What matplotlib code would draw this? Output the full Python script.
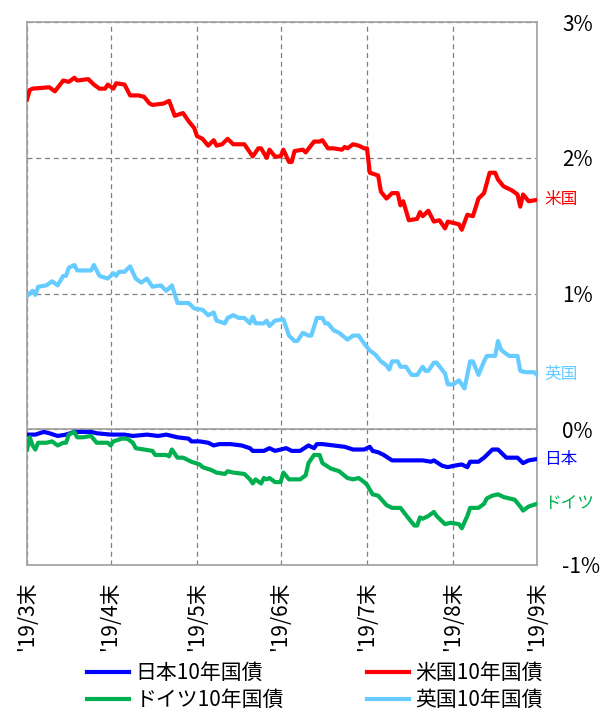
import numpy as np
import pandas as pd
import matplotlib
matplotlib.use("Agg")
import matplotlib.pyplot as plt

plt.rcParams['font.family'] = ['Noto Sans CJK JP', 'DejaVu Sans']

# ── データ（チャートから読み取り、%）──
us_dates = ['03-31', '04-01', '04-02', '04-08', '04-10', '04-13', '04-15', '04-17', '04-18', '04-22',
            '04-24', '04-26', '04-28', '04-29', '05-01', '05-02', '05-05', '05-07', '05-10', '05-12',
            '05-14', '05-15', '05-19', '05-21', '05-23', '05-26', '05-28', '05-30', '05-31', '06-02',
            '06-04', '06-06', '06-07', '06-09', '06-11', '06-13', '06-17', '06-20', '06-22', '06-23',
            '06-25', '06-26', '06-28', '06-30', '07-01', '07-03', '07-04', '07-05', '07-08', '07-09',
            '07-12', '07-14', '07-15', '07-17', '07-19', '07-22', '07-23', '07-24', '07-26', '07-28',
            '07-30', '07-31', '08-01', '08-04', '08-05', '08-07', '08-09', '08-11', '08-12', '08-13',
            '08-15', '08-18', '08-19', '08-20', '08-22', '08-24', '08-26', '08-28', '08-29', '09-02',
            '09-03', '09-05', '09-07', '09-09', '09-11', '09-13', '09-15', '09-16', '09-18', '09-21',
            '09-23', '09-24', '09-25', '09-27', '09-30']
us_vals = [2.43, 2.50, 2.51, 2.52, 2.49, 2.57, 2.56, 2.59, 2.57, 2.58,
           2.54, 2.51, 2.51, 2.54, 2.51, 2.55, 2.54, 2.46, 2.46, 2.45,
           2.40, 2.39, 2.40, 2.42, 2.31, 2.33, 2.27, 2.22, 2.16, 2.14,
           2.09, 2.13, 2.09, 2.10, 2.14, 2.10, 2.10, 2.01, 2.07, 2.07,
           2.00, 2.06, 2.01, 2.01, 2.06, 1.97, 1.97, 2.05, 2.06, 2.04,
           2.12, 2.12, 2.13, 2.07, 2.07, 2.06, 2.08, 2.07, 2.10, 2.09,
           2.07, 2.07, 1.89, 1.87, 1.75, 1.70, 1.74, 1.74, 1.65, 1.68,
           1.54, 1.55, 1.60, 1.57, 1.61, 1.53, 1.54, 1.48, 1.53, 1.51,
           1.47, 1.58, 1.57, 1.70, 1.74, 1.89, 1.89, 1.84, 1.79, 1.76,
           1.73, 1.64, 1.73, 1.68, 1.69]

uk_dates = ['03-31', '04-02', '04-03', '04-04', '04-07', '04-09', '04-11', '04-13', '04-14', '04-15',
            '04-17', '04-18', '04-23', '04-24', '04-26', '04-29', '05-01', '05-02', '05-03', '05-05',
            '05-07', '05-09', '05-11', '05-13', '05-15', '05-18', '05-20', '05-22', '05-24', '05-28',
            '05-30', '06-02', '06-04', '06-06', '06-07', '06-10', '06-11', '06-13', '06-15', '06-17',
            '06-19', '06-20', '06-21', '06-24', '06-25', '06-26', '06-28', '07-01', '07-03', '07-05',
            '07-06', '07-08', '07-10', '07-11', '07-13', '07-15', '07-16', '07-17', '07-19', '07-21',
            '07-24', '07-26', '07-28', '07-30', '08-01', '08-03', '08-05', '08-07', '08-08', '08-09',
            '08-11', '08-12', '08-14', '08-16', '08-18', '08-20', '08-21', '08-22', '08-24', '08-25',
            '08-28', '08-29', '08-31', '09-02', '09-04', '09-06', '09-07', '09-09', '09-11', '09-12',
            '09-15', '09-16', '09-17', '09-18', '09-20', '09-23', '09-24', '09-26', '09-29', '09-30']
uk_vals = [0.98, 1.02, 0.99, 1.05, 1.06, 1.09, 1.06, 1.13, 1.13, 1.19,
           1.21, 1.17, 1.17, 1.21, 1.13, 1.11, 1.15, 1.13, 1.16, 1.16,
           1.20, 1.11, 1.08, 1.11, 1.05, 1.06, 1.02, 1.06, 0.93, 0.93,
           0.89, 0.88, 0.84, 0.86, 0.80, 0.78, 0.82, 0.84, 0.82, 0.82,
           0.78, 0.83, 0.78, 0.78, 0.80, 0.76, 0.80, 0.81, 0.69, 0.65,
           0.65, 0.71, 0.69, 0.69, 0.82, 0.82, 0.78, 0.78, 0.73, 0.71,
           0.66, 0.69, 0.69, 0.63, 0.58, 0.55, 0.50, 0.47, 0.44, 0.50,
           0.50, 0.46, 0.46, 0.40, 0.40, 0.46, 0.43, 0.43, 0.49, 0.49,
           0.41, 0.33, 0.33, 0.36, 0.30, 0.50, 0.50, 0.40, 0.50, 0.54,
           0.54, 0.65, 0.59, 0.57, 0.54, 0.54, 0.43, 0.42, 0.42, 0.40]

jp_dates = ['03-31', '04-03', '04-06', '04-08', '04-11', '04-14', '04-17', '04-19', '04-23', '04-25',
            '04-30', '05-05', '05-08', '05-13', '05-17', '05-20', '05-24', '05-28', '05-29', '06-01',
            '06-04', '06-06', '06-08', '06-12', '06-16', '06-19', '06-20', '06-24', '06-26', '06-28',
            '07-02', '07-04', '07-07', '07-10', '07-12', '07-13', '07-15', '07-19', '07-23', '07-26',
            '07-30', '08-01', '08-02', '08-04', '08-06', '08-09', '08-13', '08-17', '08-20', '08-23',
            '08-24', '08-27', '08-29', '08-31', '09-03', '09-05', '09-06', '09-09', '09-11', '09-14',
            '09-16', '09-19', '09-23', '09-25', '09-27', '09-30']
jp_vals = [-0.04, -0.04, -0.02, -0.03, -0.05, -0.04, -0.02, -0.02, -0.02, -0.03,
           -0.04, -0.04, -0.05, -0.04, -0.05, -0.04, -0.06, -0.07, -0.09, -0.09,
           -0.10, -0.12, -0.11, -0.11, -0.12, -0.14, -0.16, -0.16, -0.14, -0.16,
           -0.14, -0.16, -0.16, -0.12, -0.14, -0.11, -0.11, -0.12, -0.13, -0.15,
           -0.15, -0.13, -0.16, -0.17, -0.19, -0.23, -0.23, -0.23, -0.23, -0.24,
           -0.23, -0.27, -0.28, -0.27, -0.26, -0.28, -0.24, -0.24, -0.21, -0.15,
           -0.15, -0.21, -0.21, -0.25, -0.23, -0.22]

de_dates = ['03-31', '04-01', '04-02', '04-03', '04-04', '04-07', '04-09', '04-11', '04-13', '04-14',
            '04-15', '04-17', '04-18', '04-20', '04-23', '04-25', '04-29', '04-30', '05-01', '05-04',
            '05-06', '05-08', '05-09', '05-12', '05-15', '05-16', '05-20', '05-21', '05-22', '05-24',
            '05-26', '05-29', '06-01', '06-02', '06-05', '06-07', '06-10', '06-11', '06-13', '06-17',
            '06-19', '06-20', '06-21', '06-23', '06-24', '06-25', '06-26', '06-28', '06-30', '07-01',
            '07-03', '07-07', '07-09', '07-10', '07-12', '07-14', '07-15', '07-18', '07-21', '07-24',
            '07-26', '07-28', '07-30', '07-31', '08-02', '08-04', '08-07', '08-09', '08-12', '08-15',
            '08-17', '08-18', '08-19', '08-20', '08-22', '08-24', '08-25', '08-28', '08-30', '09-02',
            '09-03', '09-05', '09-06', '09-09', '09-11', '09-12', '09-14', '09-16', '09-18', '09-22',
            '09-24', '09-25', '09-27', '09-30']
de_vals = [-0.15, -0.06, -0.12, -0.15, -0.10, -0.10, -0.09, -0.12, -0.10, -0.10,
           -0.04, -0.02, -0.06, -0.06, -0.05, -0.10, -0.10, -0.12, -0.09, -0.07,
           -0.07, -0.10, -0.14, -0.15, -0.16, -0.19, -0.19, -0.20, -0.15, -0.21,
           -0.21, -0.24, -0.26, -0.28, -0.30, -0.32, -0.33, -0.31, -0.32, -0.33,
           -0.37, -0.40, -0.37, -0.40, -0.36, -0.37, -0.36, -0.39, -0.39, -0.32,
           -0.37, -0.37, -0.34, -0.25, -0.19, -0.19, -0.25, -0.29, -0.31, -0.36,
           -0.37, -0.36, -0.39, -0.41, -0.48, -0.49, -0.56, -0.58, -0.58, -0.66,
           -0.71, -0.71, -0.65, -0.66, -0.64, -0.61, -0.64, -0.70, -0.69, -0.70,
           -0.73, -0.64, -0.58, -0.58, -0.55, -0.51, -0.49, -0.48, -0.50, -0.52,
           -0.57, -0.60, -0.57, -0.55]

month_ends = ['2019-03-31', '2019-04-30', '2019-05-31', '2019-06-30', '2019-07-31', '2019-08-31', '2019-09-30']
month_labels = ["'19/3末", "'19/4末", "'19/5末", "'19/6末", "'19/7末", "'19/8末", "'19/9末"]

series = [  # (dates, values, legend label, short label, colour)
    (jp_dates, jp_vals, '日本10年国債', '日本', '#0000FF'),
    (de_dates, de_vals, 'ドイツ10年国債', 'ドイツ', '#00B050'),
    (us_dates, us_vals, '米国10年国債', '米国', '#FF0000'),
    (uk_dates, uk_vals, '英国10年国債', '英国', '#66CCFF'),
]

# ── 描画 ──
fig = plt.figure(figsize=(6.0, 7.15), dpi=100)
ax = fig.add_axes([0.045, 0.21, 0.85, 0.759])

for dates, vals, lab, short, col in series:
    d = pd.to_datetime(['2019-' + s for s in dates])
    ax.plot(d, vals, color=col, linewidth=3.0, label=lab, zorder=3)
    ax.annotate(short, xy=(d[-1], vals[-1]), xytext=(5, 0), textcoords='offset points',
                va='center', ha='left', color=col, fontsize=12, annotation_clip=False)

ticks = pd.to_datetime(month_ends)
ax.set_xlim(ticks[0], ticks[-1])
ax.set_xticks(ticks)
ax.set_xticklabels(month_labels, rotation=90, fontsize=15)
ax.set_ylim(-1, 3)
ax.set_yticks([-1, 0, 1, 2, 3])
ax.set_yticklabels(['-1%', '0%', '1%', '2%', '3%'], fontsize=15)
ax.yaxis.tick_right()
ax.tick_params(axis='y', length=0, pad=18)
ax.tick_params(axis='x', length=0, pad=12)

ax.grid(True, color='#808080', linestyle=(0, (4, 3)), linewidth=0.9)
ax.axhline(0, color='#A0A0A0', linewidth=1.2, zorder=2)
for sp in ax.spines.values():
    sp.set_color('#A0A0A0')
    sp.set_linewidth(1.2)

handles, labels = ax.get_legend_handles_labels()
fig.legend(handles, labels, loc='center', bbox_to_anchor=(0.525, 0.04), ncol=2, frameon=False,
           fontsize=15, handlelength=2.0, handletextpad=0.3, columnspacing=4.0, labelspacing=0.25)

fig.savefig('out.png', dpi=100)
